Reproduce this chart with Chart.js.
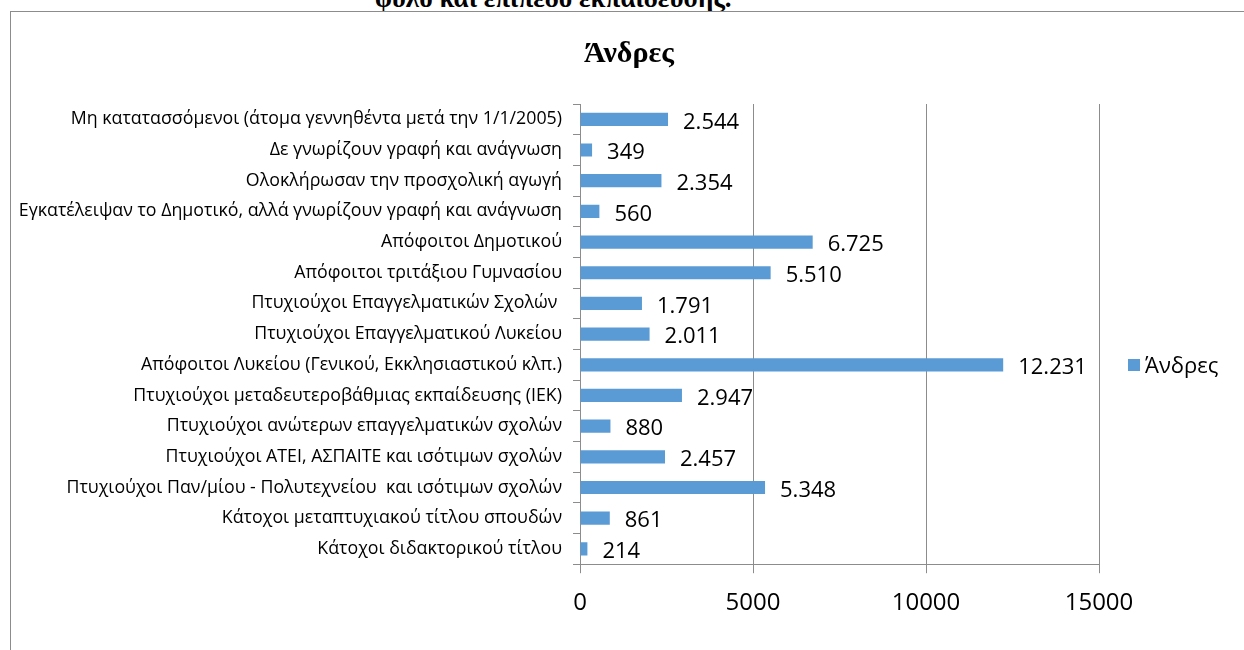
<!DOCTYPE html>
<html>
<head>
<meta charset="utf-8">
<script src="https://cdn.jsdelivr.net/npm/chart.js@4.4.1/dist/chart.umd.min.js"></script>
<style>
    body { margin: 0; background: #fff; width: 1244px; height: 650px; overflow: hidden; position: relative; }
    #caption { position: absolute; left: 375px; top: -15px; font: bold 27px/26px 'Liberation Serif', serif; color: #000; white-space: nowrap; }
    #frame { position: absolute; left: 10px; top: 11px; width: 1300px; height: 700px; border: 1px solid #8c8c8c; background: #fff; }
    #chart { position: absolute; left: 0; top: 0; }
</style>
</head>
<body>
<div id="caption">φύλο και επίπεδο εκπαίδευσης.</div>
<div id="frame"></div>
<canvas id="chart" width="1244" height="650"></canvas>
<script>
let categories = [
    'Μη κατατασσόμενοι (άτομα γεννηθέντα μετά την 1/1/2005)',
    'Δε γνωρίζουν γραφή και ανάγνωση',
    'Ολοκλήρωσαν την προσχολική αγωγή',
    'Εγκατέλειψαν το Δημοτικό, αλλά γνωρίζουν γραφή και ανάγνωση',
    'Απόφοιτοι Δημοτικού',
    'Απόφοιτοι τριτάξιου Γυμνασίου',
    'Πτυχιούχοι Επαγγελματικών Σχολών ',
    'Πτυχιούχοι Επαγγελματικού Λυκείου',
    'Απόφοιτοι Λυκείου (Γενικού, Εκκλησιαστικού κλπ.)',
    'Πτυχιούχοι μεταδευτεροβάθμιας εκπαίδευσης (ΙΕΚ)',
    'Πτυχιούχοι ανώτερων επαγγελματικών σχολών',
    'Πτυχιούχοι ΑΤΕΙ, ΑΣΠΑΙΤΕ και ισότιμων σχολών',
    'Πτυχιούχοι Παν/μίου - Πολυτεχνείου  και ισότιμων σχολών',
    'Κάτοχοι μεταπτυχιακού τίτλου σπουδών',
    'Κάτοχοι διδακτορικού τίτλου'
]
let men = [2544, 349, 2354, 560, 6725, 5510, 1791, 2011, 12231, 2947, 880, 2457, 5348, 861, 214]
let xTicks = [0, 5000, 10000, 15000]

let seriesName = 'Άνδρες'
let chartTitle = 'Άνδρες'
let barColor = '#5B9BD5'

let extras = {
    id: 'extras',
    afterDraw(chart) {
        let ctx = chart.ctx
        let area = chart.chartArea
        ctx.save()

        // title
        ctx.font = 'bold 30px "Liberation Serif"'
        ctx.fillStyle = '#000'
        ctx.textAlign = 'center'
        ctx.textBaseline = 'alphabetic'
        ctx.fillText(chartTitle, 629, 62)

        // value labels
        let meta = chart.getDatasetMeta(0)
        ctx.font = '22px "Open Sans"'
        ctx.textAlign = 'left'
        ctx.textBaseline = 'middle'
        meta.data.forEach((bar, i) => {
            let txt = men[i].toLocaleString('de-DE')
            ctx.fillText(txt, bar.x + 15, bar.y + 3)
        })

        // legend
        ctx.fillStyle = barColor
        ctx.fillRect(area.right + 29, 359, 12, 12)
        ctx.fillStyle = '#000'
        ctx.font = '22px "Open Sans"'
        ctx.fillText(seriesName, area.right + 46, 367)
        ctx.restore()
    }
}

new Chart(document.getElementById('chart'), {
    type: 'bar',
    data: {
        labels: categories,
        datasets: [
            {
                label: seriesName,
                data: men,
                backgroundColor: barColor,
                borderWidth: 0,
                barPercentage: 0.43,
                categoryPercentage: 1
            }
        ]
    },
    options: {
        indexAxis: 'y',
        responsive: false,
        animation: false,
        layout: {
            padding: { top: 104, right: 145, bottom: 16, left: 0 }
        },
        scales: {
            x: {
                min: 0,
                max: 15000,
                afterBuildTicks: axis => { axis.ticks = xTicks.map(v => ({ value: v })) },
                ticks: {
                    color: '#000',
                    font: { family: 'Open Sans', size: 24 },
                    padding: 16,
                    maxRotation: 0,
                    callback: v => String(v)
                },
                border: { display: true, color: '#8c8c8c', width: 1 },
                grid: { display: true, color: '#8c8c8c', lineWidth: 1, tickLength: 9 }
            },
            y: {
                afterFit: scale => { scale.width = 580 },
                ticks: {
                    color: '#000',
                    font: { family: 'Open Sans', size: 17.8 },
                    padding: 11,
                    autoSkip: false
                },
                border: { display: true, color: '#8c8c8c', width: 1 },
                grid: { display: true, drawOnChartArea: false, color: '#8c8c8c', lineWidth: 1, tickLength: 7 }
            }
        },
        plugins: {
            title: { display: false },
            legend: { display: false },
            tooltip: { enabled: false }
        }
    },
    plugins: [extras]
})
</script>
</body>
</html>
